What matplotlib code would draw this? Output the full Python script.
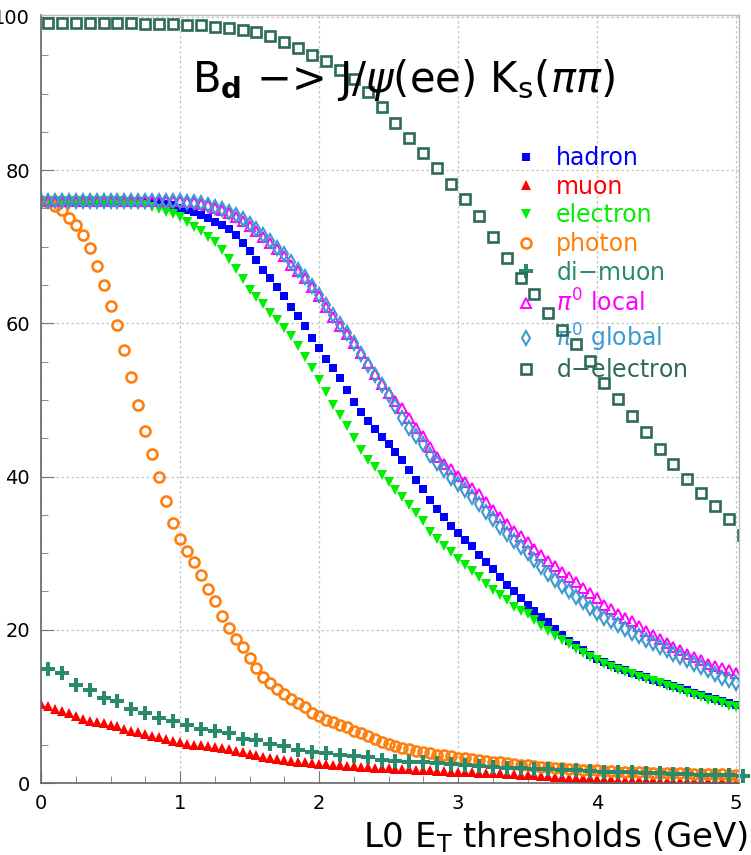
import matplotlib.pyplot as plt
import numpy as np
from matplotlib.ticker import MultipleLocator

# thresholds (GeV)
x_fine = np.round(np.arange(0, 5.001, 0.05), 2)      # 101 points
x_coarse = np.round(np.arange(0.05, 5.1, 0.1), 2)    # 51 points

hadron = [
    76.0, 76.0, 76.0, 76.0, 76.0, 76.0, 76.0, 76.0, 76.0, 76.0,
    76.0, 76.0, 76.0, 76.0, 76.0, 76.0, 75.9, 75.8, 75.6, 75.4,
    75.1, 74.8, 74.5, 74.1, 73.8, 73.3, 72.8, 72.3, 71.5, 70.5,
    69.4, 68.3, 67.0, 65.9, 64.8, 63.6, 62.2, 61.0, 59.6, 58.1,
    56.8, 55.4, 54.2, 52.9, 51.3, 49.8, 48.4, 47.3, 46.2, 45.2,
    44.2, 43.2, 42.2, 40.8, 39.6, 38.4, 37.0, 35.8, 34.7, 33.6,
    32.6, 31.7, 30.9, 29.8, 28.8, 27.9, 26.9, 25.9, 25.1, 24.2,
    23.3, 22.5, 21.7, 21.0, 20.1, 19.3, 18.6, 18.0, 17.3, 16.7,
    16.2, 15.8, 15.4, 15.0, 14.7, 14.4, 14.1, 13.8, 13.5, 13.2,
    12.9, 12.6, 12.4, 12.1, 11.8, 11.5, 11.2, 11.0, 10.7, 10.5,
    10.2]

muon = [
    10.3, 10.0, 9.7, 9.4, 9.1, 8.7, 8.3, 8.1, 7.9, 7.8,
    7.6, 7.4, 7.1, 6.8, 6.6, 6.4, 6.2, 6.0, 5.8, 5.5,
    5.3, 5.1, 5.0, 4.9, 4.8, 4.7, 4.6, 4.4, 4.2, 4.0,
    3.8, 3.6, 3.4, 3.3, 3.1, 3.0, 2.9, 2.8, 2.7, 2.6,
    2.5, 2.45, 2.4, 2.3, 2.25, 2.2, 2.1, 2.05, 2.0, 1.95,
    1.9, 1.85, 1.8, 1.8, 1.75, 1.7, 1.65, 1.6, 1.55, 1.5,
    1.5, 1.45, 1.4, 1.35, 1.3, 1.3, 1.25, 1.2, 1.15, 1.1,
    1.05, 1.0, 0.9, 0.85, 0.8, 0.75, 0.7, 0.65, 0.6, 0.6,
    0.55, 0.5, 0.5, 0.45, 0.45, 0.4, 0.4, 0.35, 0.35, 0.3,
    0.3, 0.3, 0.25, 0.25, 0.25, 0.2, 0.2, 0.2, 0.2, 0.2,
    0.15]

electron = [
    76.0, 76.0, 76.0, 76.0, 76.0, 76.0, 76.0, 76.0, 76.0, 76.0,
    76.0, 76.0, 75.9, 75.8, 75.6, 75.4, 75.2, 74.9, 74.6, 74.3,
    73.9, 73.3, 72.6, 72.0, 71.3, 70.6, 69.6, 68.4, 67.1, 65.8,
    64.4, 63.5, 62.5, 61.4, 60.4, 59.4, 58.4, 57.0, 55.6, 54.2,
    52.6, 51.0, 49.3, 48.1, 46.6, 45.0, 43.5, 42.2, 41.2, 40.2,
    39.3, 38.3, 37.3, 36.3, 35.3, 34.2, 32.8, 31.8, 31.0, 30.1,
    29.3, 28.4, 27.7, 26.9, 26.0, 25.2, 24.6, 23.9, 23.0, 22.5,
    22.0, 21.3, 20.5, 19.8, 19.2, 18.7, 18.1, 17.5, 17.0, 16.5,
    16.0, 15.6, 15.2, 14.8, 14.5, 14.2, 13.9, 13.6, 13.3, 13.0,
    12.7, 12.4, 12.1, 11.8, 11.5, 11.2, 10.9, 10.7, 10.4, 10.1,
    9.9]

photon = [
    76.0, 75.8, 75.3, 74.8, 73.8, 72.8, 71.5, 69.8, 67.5, 65.0,
    62.3, 59.8, 56.5, 53.0, 49.3, 46.0, 43.0, 40.0, 36.8, 34.0,
    31.8, 30.3, 28.8, 27.2, 25.3, 23.8, 21.8, 20.3, 18.8, 17.8,
    16.3, 15.0, 13.9, 13.1, 12.3, 11.6, 11.0, 10.5, 9.9, 9.2,
    8.7, 8.2, 7.9, 7.6, 7.3, 6.8, 6.5, 6.1, 5.8, 5.4,
    5.1, 4.8, 4.6, 4.4, 4.2, 4.0, 3.9, 3.7, 3.6, 3.5,
    3.3, 3.2, 3.1, 3.0, 2.9, 2.8, 2.7, 2.6, 2.5, 2.4,
    2.3, 2.2, 2.1, 2.05, 2.0, 1.9, 1.85, 1.8, 1.75, 1.7,
    1.65, 1.6, 1.55, 1.5, 1.5, 1.45, 1.4, 1.4, 1.35, 1.35,
    1.3, 1.3, 1.25, 1.25, 1.2, 1.2, 1.2, 1.15, 1.15, 1.1,
    1.1]

pi0_local = [
    76.0, 76.0, 76.0, 76.0, 76.0, 76.0, 76.0, 76.0, 76.0, 76.0,
    76.0, 76.0, 76.0, 76.0, 76.0, 76.0, 76.0, 76.0, 76.0, 76.0,
    76.0, 75.9, 75.8, 75.6, 75.4, 75.1, 74.8, 74.4, 73.9, 73.4,
    72.7, 72.0, 71.3, 70.5, 69.7, 68.8, 67.6, 66.8, 65.9, 64.7,
    63.6, 62.2, 60.8, 59.7, 58.6, 57.4, 56.1, 54.8, 53.4, 52.1,
    50.9, 49.9, 48.9, 47.6, 46.4, 45.3, 43.8, 42.6, 41.7, 41.0,
    40.1, 39.3, 38.5, 37.7, 36.7, 35.7, 34.7, 33.8, 32.9, 32.2,
    31.4, 30.6, 29.8, 29.0, 28.3, 27.6, 26.9, 26.2, 25.5, 24.8,
    24.1, 23.3, 22.7, 22.1, 21.6, 21.1, 20.5, 19.9, 19.3, 18.8,
    18.3, 17.8, 17.3, 16.9, 16.5, 16.0, 15.6, 15.3, 15.0, 14.7,
    14.3]

pi0_global = [
    76.0, 76.0, 76.0, 76.0, 76.0, 76.0, 76.0, 76.0, 76.0, 76.0,
    76.0, 76.0, 76.0, 76.0, 76.0, 76.0, 76.0, 76.0, 76.0, 76.0,
    76.0, 75.9, 75.8, 75.7, 75.5, 75.2, 74.9, 74.5, 74.1, 73.6,
    73.0, 72.3, 71.5, 70.7, 69.9, 69.0, 68.0, 67.0, 66.0, 64.9,
    63.7, 62.4, 61.1, 59.9, 58.7, 57.4, 56.0, 54.6, 53.2, 51.9,
    50.6, 49.2, 47.6, 46.4, 45.3, 44.3, 42.8, 41.8, 40.9, 39.8,
    39.0, 38.2, 37.3, 36.4, 35.4, 34.4, 33.4, 32.5, 31.6, 30.8,
    30.0, 29.1, 28.2, 27.3, 26.5, 25.7, 25.0, 24.3, 23.6, 22.9,
    22.2, 21.6, 21.1, 20.6, 20.1, 19.6, 19.2, 18.7, 18.3, 17.8,
    17.4, 16.9, 16.5, 16.0, 15.6, 15.2, 14.8, 14.2, 13.7, 13.4,
    13.1]

di_muon = [
    14.9, 14.4, 12.8, 12.1, 11.1, 10.7, 9.7, 9.2, 8.5, 8.1,
    7.6, 7.1, 6.8, 6.5, 5.8, 5.6, 5.1, 4.8, 4.3, 4.1,
    3.9, 3.7, 3.5, 3.4, 3.0, 2.9, 2.8, 2.7, 2.6, 2.5,
    2.3, 2.2, 2.1, 2.0, 1.95, 1.8, 1.8, 1.7, 1.65, 1.6,
    1.5, 1.4, 1.4, 1.3, 1.3, 1.2, 1.2, 1.1, 1.1, 1.0,
    0.9]

d_electron = [
    99.2, 99.2, 99.2, 99.2, 99.2, 99.2, 99.2, 99.1, 99.1, 99.1,
    99.0, 98.9, 98.7, 98.6, 98.3, 98.0, 97.5, 96.8, 96.0, 95.1,
    94.2, 93.1, 91.9, 90.2, 88.3, 86.2, 84.2, 82.2, 80.3, 78.2,
    76.3, 74.0, 71.3, 68.5, 65.9, 63.8, 61.4, 59.2, 57.3, 55.1,
    52.2, 50.1, 47.9, 45.8, 43.6, 41.6, 39.7, 37.9, 36.1, 34.5,
    32.4]

W, H = 751, 855
fig = plt.figure(figsize=(W / 100, H / 100), dpi=100)
ax = fig.add_axes([41 / W, 1 - 783 / H, (738.8 - 41) / W, (783 - 15) / H])
ax.set_xlim(0, 5.02)
ax.set_ylim(0, 100.26)

lines = []
lines += ax.plot(x_fine, hadron, ls='none', marker='s', ms=6.2, color='#0000ff', mew=0, label='hadron')
lines += ax.plot(x_fine, muon, ls='none', marker='^', ms=7, color='#ff0000', mew=0, label='muon')
lines += ax.plot(x_fine, electron, ls='none', marker='v', ms=7, color='#00ee00', mew=0, label='electron')
lines += ax.plot(x_fine, photon, ls='none', marker='o', ms=7.2, mfc='none', mec='#ff7f0e', mew=1.9, label='photon')
lines += ax.plot(x_coarse, di_muon, ls='none', marker='P', ms=9.5, color='#2a8a6c', mew=0, label='di$-$muon', clip_on=False)
lines += ax.plot(x_fine, pi0_local, ls='none', marker='^', ms=7.8, mfc='none', mec='#ff00ff', mew=1.4, label=r'$\pi^0$ local')
lines += ax.plot(x_fine, pi0_global, ls='none', marker='d', ms=7, mfc='none', mec='#3d9ad1', mew=1.5, label=r'$\pi^0$ global')
lines += ax.plot(x_coarse, d_electron, ls='none', marker='s', ms=7.2, mfc='none', mec='#2d6a57', mew=1.9, label='d$-$electron')

leg = ax.legend(handles=lines, loc='upper left', bbox_to_anchor=(504 / W, 1 - 134 / H),
                bbox_transform=fig.transFigure, frameon=False, fontsize=17,
                handlelength=0.9, handletextpad=0.8, labelspacing=0.2, borderpad=0,
                numpoints=1)
for txt, ln in zip(leg.get_texts(), lines):
    txt.set_color(ln.get_markeredgecolor())
leg.set_zorder(1)

ax.xaxis.set_major_locator(MultipleLocator(1))
ax.xaxis.set_minor_locator(MultipleLocator(0.25))
ax.yaxis.set_major_locator(MultipleLocator(20))
ax.yaxis.set_minor_locator(MultipleLocator(5))
ax.grid(True, which='major', color='#c4c4c4', ls=(0, (2, 2)), lw=0.9)
ax.set_axisbelow(True)
ax.tick_params(which='both', direction='in', top=False, right=False,
               color='#777777', labelsize=14, pad=8)
ax.tick_params(which='major', length=9)
ax.tick_params(which='minor', length=5)
for s in ['left', 'bottom']:
    ax.spines[s].set_color('#666666')
    ax.spines[s].set_linewidth(1.2)
for s in ['top', 'right']:
    ax.spines[s].set_color('#bbbbbb')
    ax.spines[s].set_linewidth(1.0)

fig.text(403 / W, 1 - 80 / H, r'B$_{\mathbf{d}}$ $-$> J/$\psi$(ee) K$_{\rm s}$($\pi\pi$)',
         ha='center', va='center', fontsize=30)
fig.text(748 / W, 1 - 837 / H, r'L0 E$_{\rm T}$ thresholds (GeV)', ha='right', va='center', fontsize=24.5)

fig.savefig('out.png', dpi=100)
